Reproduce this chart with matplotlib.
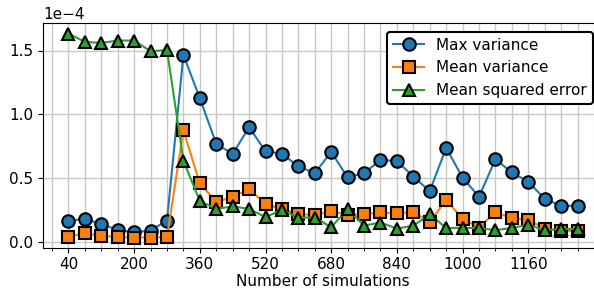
import matplotlib
matplotlib.use("Agg")
import matplotlib.pyplot as plt
from matplotlib.ticker import MultipleLocator, FixedLocator

# number of simulations (x) and the three error measures (in units of 1e-4)
n_sims = list(range(40, 1281, 40))

max_variance = [0.167, 0.183, 0.141, 0.097, 0.078, 0.091, 0.170, 1.465,
                1.127, 0.769, 0.691, 0.900, 0.711, 0.693, 0.593, 0.541,
                0.706, 0.507, 0.541, 0.643, 0.636, 0.513, 0.400, 0.738,
                0.505, 0.356, 0.649, 0.546, 0.473, 0.340, 0.285, 0.285]

mean_variance = [0.044, 0.071, 0.050, 0.042, 0.037, 0.037, 0.040, 0.876,
                 0.460, 0.316, 0.353, 0.416, 0.300, 0.259, 0.220, 0.214,
                 0.243, 0.214, 0.220, 0.233, 0.225, 0.236, 0.157, 0.332,
                 0.183, 0.115, 0.236, 0.188, 0.175, 0.107, 0.089, 0.089]

mse = [1.633, 1.567, 1.559, 1.578, 1.578, 1.494, 1.504, 0.638,
       0.322, 0.261, 0.280, 0.261, 0.196, 0.254, 0.193, 0.193,
       0.118, 0.259, 0.130, 0.154, 0.107, 0.130, 0.217, 0.112,
       0.112, 0.112, 0.094, 0.112, 0.136, 0.094, 0.104, 0.104]

scale = 1e-4

plt.rcParams['font.size'] = 11

fig = plt.figure(figsize=(5.94, 2.89), dpi=100)
# the original picture is cropped on the right, so the axes run past the edge
ax = fig.add_axes([43 / 594, (289 - 247.7) / 289, (603 - 43) / 594, (247.7 - 23.3) / 289])

style = dict(markeredgecolor='black', markeredgewidth=1.5, linewidth=1.5, markersize=9)
ax.plot(n_sims, [v * scale for v in max_variance], marker='o', color='#1f77b4',
        label='Max variance', **style)
ax.plot(n_sims, [v * scale for v in mean_variance], marker='s', color='#ff7f0e',
        label='Mean variance', **style)
ax.plot(n_sims, [v * scale for v in mse], marker='^', color='#2ca02c',
        label='Mean squared error', **style)

ax.xaxis.set_major_locator(FixedLocator(n_sims[::4]))
ax.xaxis.set_minor_locator(MultipleLocator(40))
ax.yaxis.set_major_locator(MultipleLocator(0.5e-4))
ax.ticklabel_format(axis='y', style='sci', scilimits=(0, 0))
ax.grid(True, which='both', axis='x', color='#c8c8c8', linewidth=1.0)
ax.grid(True, which='major', axis='y', color='#c8c8c8', linewidth=1.0)
ax.set_axisbelow(True)

ax.set_xlabel('Number of simulations', labelpad=1)

ax.legend(loc='upper right', bbox_to_anchor=(593 / 594, (289 - 31.7) / 289),
          bbox_transform=fig.transFigure, borderaxespad=0,
          edgecolor='black', framealpha=1.0, fancybox=True).get_frame().set_linewidth(1.5)

fig.savefig('out.png', dpi=100)
